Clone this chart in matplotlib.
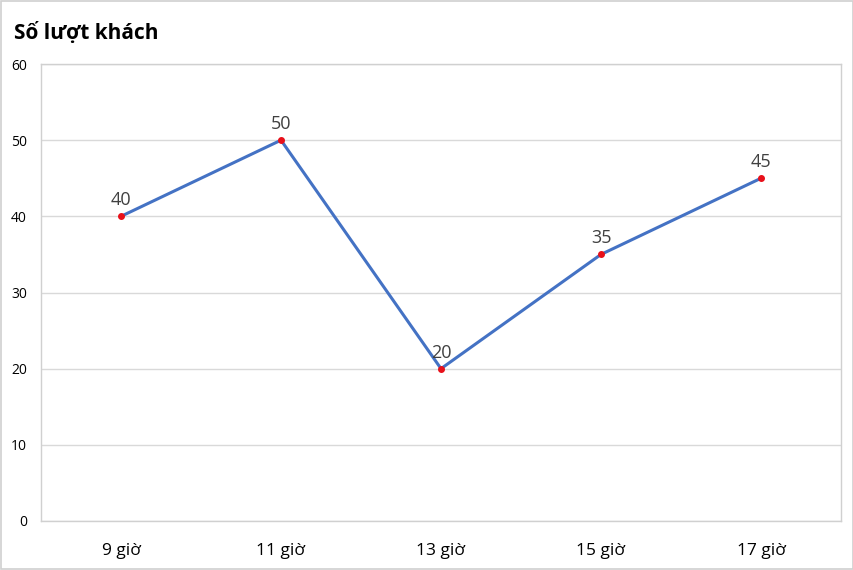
import matplotlib.pyplot as plt
from matplotlib.patches import Rectangle

plt.rcParams['font.family'] = ['Open Sans', 'DejaVu Sans']

hours = ["9 giờ", "11 giờ", "13 giờ", "15 giờ", "17 giờ"]
visitors = [40, 50, 20, 35, 45]
y_ticks = [0, 10, 20, 30, 40, 50, 60]

fig = plt.figure(figsize=(8.54, 5.7), dpi=100)
ax = fig.add_axes([41 / 854, 49 / 570, 800 / 854, 457 / 570])

x = list(range(len(hours)))
ax.plot(x, visitors, color='#4472C4', linewidth=2.2, zorder=3)
ax.plot(x, visitors, linestyle='none', marker='o', markersize=4,
        markerfacecolor='#E8101A', markeredgecolor='#E8101A', zorder=4)

for xi, v in zip(x, visitors):
    ax.annotate(str(v), (xi, v), xytext=(0, 5), textcoords='offset points',
                ha='center', va='bottom', fontsize=13, color='#404040')

ax.set_xlim(-0.5, len(hours) - 0.5)
ax.set_ylim(0, 60)
ax.set_yticks(y_ticks)
ax.set_xticks(x)
ax.set_xticklabels(hours, fontsize=12.5)
ax.tick_params(axis='y', labelsize=10, length=0, pad=10)
ax.tick_params(axis='x', length=0, pad=16)
ax.grid(axis='y', color='#D9D9D9', linewidth=1)
ax.set_axisbelow(True)
for s in ax.spines.values():
    s.set_color('#D0D0D0')
    s.set_linewidth(1)

fig.text(14 / 854, 1 - 33 / 570, "Số lượt khách", fontsize=15, fontweight='bold',
         ha='left', va='center', color='#000000')

fig.patches.append(Rectangle((0.0015, 0.002), 0.997, 0.996, transform=fig.transFigure,
                             fill=False, edgecolor='#D0D0D0', linewidth=1.2))

fig.savefig('out.png', dpi=100)
